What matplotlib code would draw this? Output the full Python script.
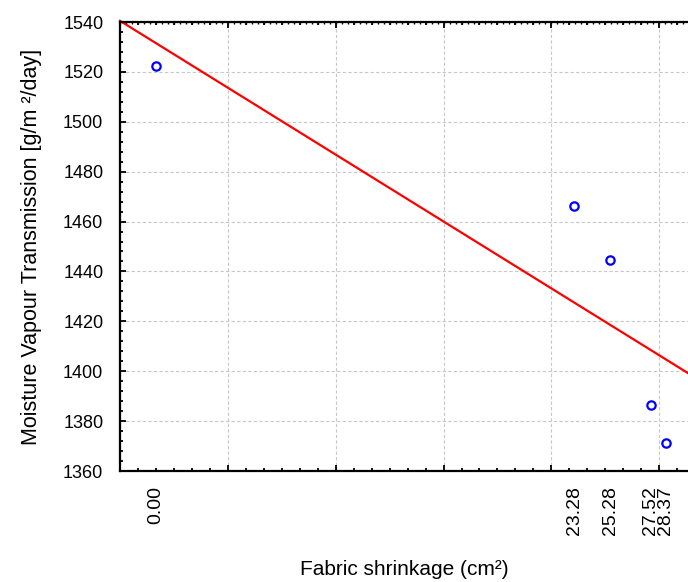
import numpy as np
import matplotlib.pyplot as plt
from matplotlib.ticker import FixedLocator, MultipleLocator

plt.rcParams['font.family'] = ['Liberation Sans', 'DejaVu Sans']

# fabric shrinkage (cm2) vs moisture vapour transmission (g/m2/day)
shrinkage = np.array([0.00, 23.28, 25.28, 27.52, 28.37])
mvtr = np.array([1522.4, 1466.2, 1444.6, 1386.4, 1371.2])
shrink_labels = ['0.00', '23.28', '25.28', '27.52', '28.37']

xmin, xmax = -2, 29.6
ymin, ymax = 1360, 1540

fig = plt.figure(figsize=(6.88, 5.82), dpi=100)
ax = fig.add_axes([120 / 688, 1 - 471 / 582, 1 - 120 / 688, (471 - 22) / 582])

# least squares fit across the whole x range
slope, icpt = np.polyfit(shrinkage, mvtr, 1)
xs = np.array([xmin, xmax])
ax.plot(xs, icpt + slope * xs, color='red', lw=1.6, zorder=2, clip_on=False)
ax.plot(shrinkage, mvtr, ls='none', marker='o', ms=6, mfc='none', mec='blue',
        mew=1.6, zorder=3)

ax.set_xlim(xmin, xmax)
ax.set_ylim(ymin, ymax)

ax.xaxis.set_major_locator(FixedLocator(np.arange(-2, 30, 6)))
ax.xaxis.set_minor_locator(MultipleLocator(1))
ax.yaxis.set_major_locator(MultipleLocator(20))
ax.yaxis.set_minor_locator(MultipleLocator(4))
ax.grid(True, which='major', color='#c8c8c8', ls=(0, (3, 2)), lw=0.8)

ax.tick_params(which='both', direction='in', top=True, right=False,
               labelbottom=False, width=1.3, color='black')
ax.tick_params(which='major', length=4)
ax.tick_params(which='minor', length=2.5)
ax.tick_params(axis='y', labelsize=13, pad=12)
for side in ['left', 'bottom', 'top']:
    ax.spines[side].set_linewidth(1.6)
ax.spines['right'].set_visible(False)

# extra fine ticks along the top edge
top = ax.secondary_xaxis('top')
top.xaxis.set_major_locator(FixedLocator([]))
top.xaxis.set_minor_locator(MultipleLocator(1 / 3))
top.tick_params(which='minor', direction='in', length=1.5, width=1.0)
top.spines['top'].set_visible(False)

# shrinkage values written under the axis
lab = ax.secondary_xaxis('bottom')
lab.set_xticks(shrinkage, shrink_labels, rotation=90)
lab.tick_params(length=0, pad=11, labelsize=14)
lab.spines['bottom'].set_visible(False)
lab.set_xlabel('Fabric shrinkage (cm\u00b2)', fontsize=15, labelpad=18)

ax.set_ylabel('Moisture Vapour Transmission [g/m \u00b2/day]', fontsize=15.5,
              labelpad=15)

fig.savefig('out.png', dpi=100)
